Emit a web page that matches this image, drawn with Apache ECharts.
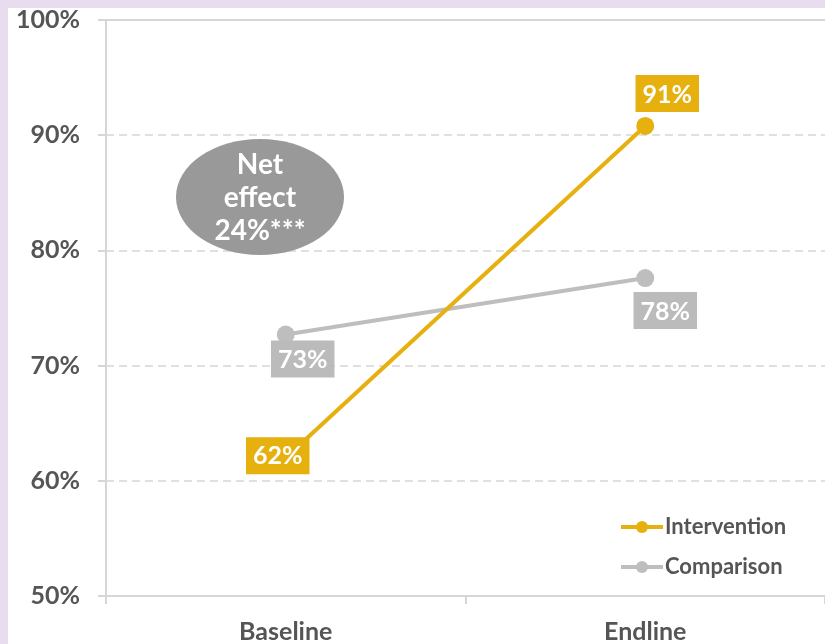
<!DOCTYPE html>
<html><head><meta charset="utf-8">
<script src="https://cdn.jsdelivr.net/npm/echarts@6/dist/echarts.min.js"></script>
<style>html,body{margin:0;padding:0;background:#E7DDEF;}#c{width:825px;height:644px;}</style>
</head><body><div id="c"></div>
<script>
const categories = ['Baseline', 'Endline'];
const intervention = [62, 90.8];
const comparison = [72.7, 77.6];
const yTicks = [50, 60, 70, 80, 90, 100];
const seriesNames = ['Intervention', 'Comparison'];
const noteLines = ['Net', 'effect', '24%***'];

const GOLD = '#E6B00F', GREY = '#BEBEBE', TXT = '#555555';
const FONT = 'Lato';
const lbl = (bg) => ({
  show: true, color: '#fff', fontFamily: FONT, fontWeight: 'bold', fontSize: 25,
  backgroundColor: bg, padding: [7, 7, 5, 7],
  formatter: p => Math.round(p.value) + '%'
});

const chart = echarts.init(document.getElementById('c'));
chart.setOption({
  backgroundColor: '#E7DDEF',
  textStyle: { fontFamily: FONT },
  graphic: [
    { type: 'rect', left: 8, top: 8, z: -10, shape: { width: 817, height: 636 }, style: { fill: '#ffffff' } },
    { type: 'ellipse', z: 5, shape: { cx: 260, cy: 197, rx: 84, ry: 58 }, style: { fill: '#999999' } },
    { type: 'text', z: 6, x: 260, y: 198, style: {
        text: noteLines.join('\n'), fill: '#fff', font: 'bold 28px Lato',
        align: 'center', verticalAlign: 'middle', lineHeight: 33 } }
  ],
  grid: { left: 106, top: 20, right: -5, bottom: 46, containLabel: false },
  legend: {
    orient: 'vertical', left: 614, top: 511, itemGap: 18, itemWidth: 42, itemHeight: 15,
    lineStyle: { width: 4 },
    textStyle: { color: TXT, fontWeight: 'bold', fontSize: 22, fontFamily: FONT, padding: [0, 0, 0, -3] },
    data: seriesNames
  },
  xAxis: {
    type: 'category', data: categories, boundaryGap: true,
    axisLine: { lineStyle: { color: '#D6D6D6', width: 2 } },
    axisTick: { show: true, length: 8, lineStyle: { color: '#D6D6D6', width: 2 } },
    axisLabel: { color: TXT, fontWeight: 'bold', fontSize: 25, fontFamily: FONT, margin: 23 }
  },
  yAxis: {
    type: 'value', min: yTicks[0], max: yTicks[yTicks.length - 1], interval: 10,
    axisLine: { show: true, lineStyle: { color: '#D6D6D6', width: 2 } },
    axisTick: { show: true, length: 8, lineStyle: { color: '#D6D6D6', width: 2 } },
    axisLabel: { color: TXT, fontWeight: 'bold', fontSize: 25, fontFamily: FONT, margin: 26, formatter: '{value}%' },
    splitLine: { show: true, lineStyle: { color: '#D6D6D6', type: [8, 5], width: 1.5 } }
  },
  series: [
    {
      name: seriesNames[1], type: 'line', data: comparison.map((v, i) => ({
        value: v,
        label: i === 0 ? { position: 'bottom', offset: [17, -8] } : { position: 'bottom', offset: [20, 0] }
      })),
      symbol: 'circle', symbolSize: 18,
      itemStyle: { color: GREY }, lineStyle: { color: GREY, width: 4 },
      label: lbl('#BBBBBB'), z: 3,
      markLine: { silent: true, symbol: 'none', label: { show: false },
        lineStyle: { color: '#D6D6D6', type: 'solid', width: 2 }, data: [{ yAxis: 100 }] }
    },
    {
      name: seriesNames[0], type: 'line', data: intervention.map((v, i) => ({
        value: v,
        label: i === 0 ? { position: 'inside', offset: [-8, -2] } : { position: 'top', offset: [22, 0] }
      })),
      symbol: 'circle', symbolSize: 18,
      itemStyle: { color: GOLD }, lineStyle: { color: GOLD, width: 4 },
      label: lbl(GOLD), z: 4
    }
  ]
});
</script></body></html>
